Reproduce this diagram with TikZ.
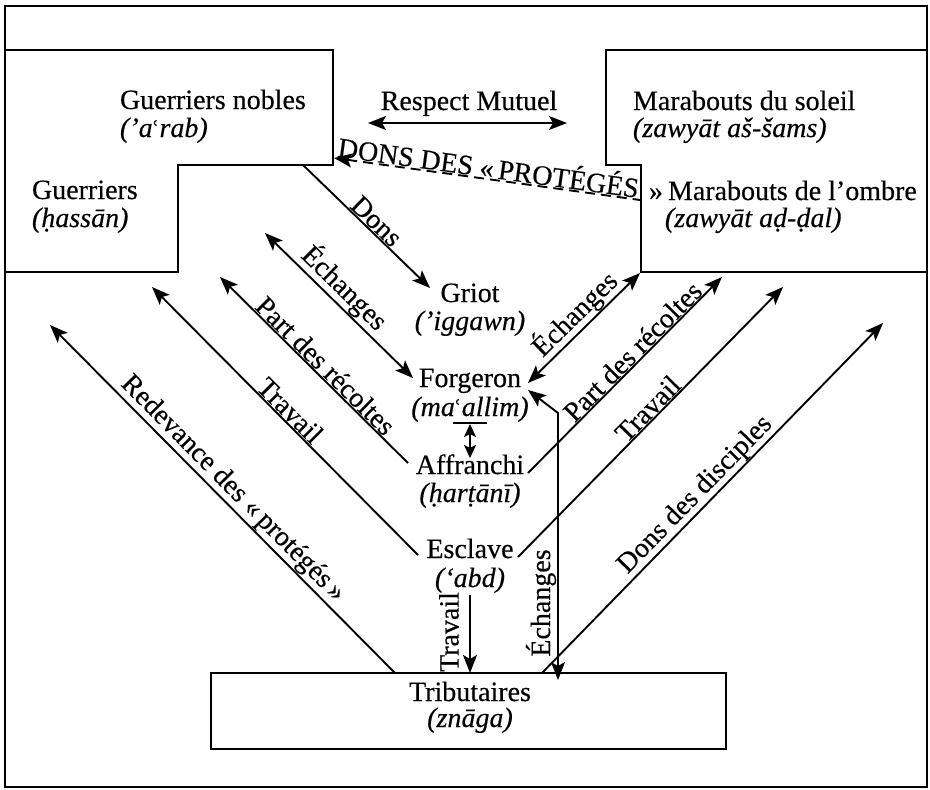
\documentclass[tikz,border=0pt]{standalone}
\usepackage{fontspec}
\setmainfont{Liberation Serif}[UprightFeatures={FakeBold=0.35},ItalicFeatures={FakeBold=0.35}]
\newfontfamily\ainfont[Scale=0.8]{DejaVu Sans}
\usetikzlibrary{arrows.meta,calc}
\newcommand\ain{{\ainfont\upshape ʿ}}
\tikzset{
  hd/.tip={Stealth[length=18pt,width=14pt,inset=4pt]},
  shd/.tip={Stealth[length=13pt,width=12pt,inset=3pt]},
}
\begin{document}
\begin{tikzpicture}[x=1pt,y=-1pt,
  font=\fontsize{28}{32}\selectfont,
  every node/.style={inner sep=0pt, outer sep=0pt},
  txt/.style={anchor=base west},
  ctxt/.style={anchor=base},
  frame/.style={line width=2.8pt},
  boxline/.style={line width=1.6pt},
  conn/.style={line width=1.9pt},
  lab/.style={sloped, above, inner sep=1.5pt},
  dashy/.style={dash pattern=on 10pt off 6pt},
]
\useasboundingbox (0,0) rectangle (930,790);
\draw[frame] (5,6) rectangle (927,787);
% boxes
\draw[boxline] (5,50) -- (333,50) -- (333,165) -- (178,165) -- (178,272) -- (5,272);
\draw[boxline] (927,50) -- (606,50) -- (606,165) -- (641,165) -- (641,272) -- (927,272);
\node[draw, boxline, minimum width=515pt, minimum height=76pt] (trib) at (468.5,711) {};
% texts
\node[txt] (gn) at (120,109) {Guerriers nobles};
\node[txt] (gni) at (120,137) {\itshape (’a\ain rab)};
\node[txt] (gu) at (32,199) {Guerriers};
\node[txt] (gui) at (32,227) {\itshape (ḥassān)};
\node[ctxt] (rm) at (469,110) {Respect Mutuel};
\node[txt] (ms) at (633,110) {Marabouts du soleil};
\node[txt] (msi) at (633,137) {\itshape (zawyāt aš-šams)};
\node[txt] (guil) at (649,200) {»};
\node[txt] (mo) at (668,200) {Marabouts de l’ombre};
\node[txt] (moi) at (665,227) {\itshape (zawyāt aḍ-ḍal)};
\node[ctxt] (gr) at (470,302) {Griot};
\node[ctxt] (gri) at (470,330) {\itshape (’iggawn)};
\node[ctxt] (fg) at (470,387) {Forgeron};
\node[ctxt] (fgi) at (470,416) {\itshape (ma\ain allim)};
\node[ctxt] (af) at (470,474) {Affranchi};
\node[ctxt] (afi) at (470,502) {\itshape (ḥarṭānī)};
\node[ctxt] (es) at (470,558) {Esclave};
\node[ctxt] (esi) at (470,587) {\itshape (‘abd)};
\node[ctxt] (tr) at (470,701) {Tributaires};
\node[ctxt] (tri) at (470,727) {\itshape (znāga)};
% coordinates
\coordinate (rmL) at (368,123); \coordinate (rmR) at (567,123);
\coordinate (dpL) at (334,158); \coordinate (dpR) at (640,200);
\coordinate (dnA) at (303,165); \coordinate (dnB) at (430,288);
\coordinate (ecA) at (265,233); \coordinate (ecB) at (413,378);
\coordinate (pdA) at (220,277); \coordinate (pdB) at (408,463);
\coordinate (tvA) at (152,287); \coordinate (tvB) at (418,555);
\coordinate (rdA) at (50,325);  \coordinate (rdB) at (395,673);
\coordinate (erA) at (528,383); \coordinate (erB) at (640,273);
\coordinate (prA) at (528,473); \coordinate (prB) at (722,277);
\coordinate (trA) at (518,557); \coordinate (trB) at (783,287);
\coordinate (ddA) at (542,673); \coordinate (ddB) at (883,323);
\coordinate (evA) at (528,390); \coordinate (evK) at (558,413); \coordinate (evB) at (558,680);
\coordinate (tvvA) at (470,595); \coordinate (tvvB) at (470,673);
\coordinate (baL) at (453,423); \coordinate (baR) at (487,423);
\coordinate (faA) at (470,424); \coordinate (faB) at (470,458);
% connectors
\draw[conn, hd-hd] (rmL) -- (rmR);
\draw[conn, dashy, hd-] (dpL) -- node[lab, pos=.5] {DONS DES «\,PROTÉGÉS} (dpR);
\draw[conn, -hd] (dnA) -- node[lab, pos=.52] {Dons} (dnB);
\draw[conn, hd-hd] (ecA) -- node[lab, pos=.46] {Échanges} (ecB);
\draw[conn, hd-] (pdA) -- node[lab, pos=.52] {Part des récoltes} (pdB);
\draw[conn, hd-] (tvA) -- node[lab, pos=.49] {Travail} (tvB);
\draw[conn, hd-] (rdA) -- node[lab, pos=.5] {Redevance des «\,protégés\,»} (rdB);
\draw[conn, hd-hd] (erA) -- node[lab, pos=.52] {Échanges} (erB);
\draw[conn, -hd] (prA) -- node[lab, pos=.58] {Part des récoltes} (prB);
\draw[conn, -hd] (trA) -- node[lab, pos=.52] {Travail} (trB);
\draw[conn, -hd] (ddA) -- node[lab, pos=.48] {Dons des disciples} (ddB);
\draw[conn, hd-hd] (evA) -- (evK) -- (evB);
\node[rotate=90] (evL) at (541,603) {Échanges};
\draw[conn, -hd] (tvvA) -- (tvvB);
\node[rotate=90] (tvvL) at (449,632) {Travail};
\draw[conn] (baL) -- (baR);
\draw[conn, shd-shd] (faA) -- (faB);
\end{tikzpicture}
\end{document}
